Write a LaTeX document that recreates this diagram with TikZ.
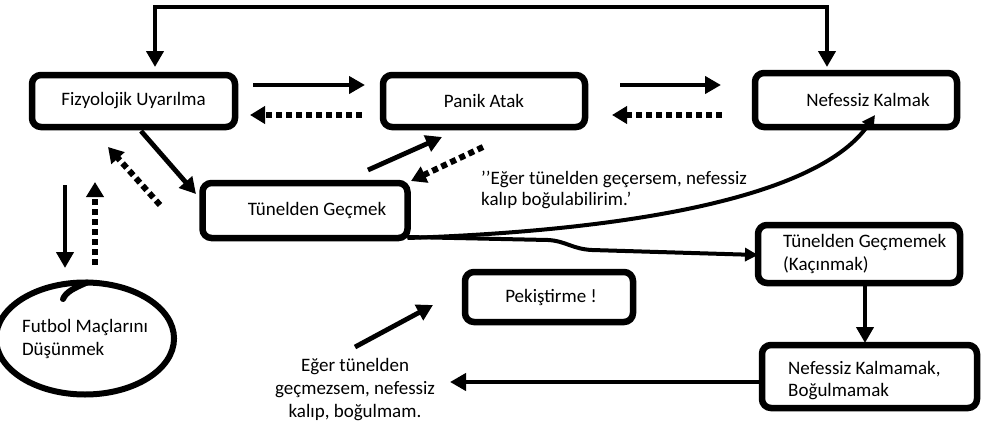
\documentclass[tikz,border=0pt]{standalone}
\usepackage{fontspec}
\setmainfont{Carlito}
\usetikzlibrary{arrows.meta,shapes.geometric}
\begin{document}
\begin{tikzpicture}[x=1pt,y=-1pt,
  txtfont/.style={font=\fontsize{19}{23}\selectfont},
  box/.style={draw,line width=6.5pt,rounded corners=9pt,inner sep=0pt,outer sep=0pt,txtfont},
  lbl/.style={txtfont,inner sep=0pt},
  sarr/.style={line width=4.8pt,-{Triangle[length=16pt,width=17pt]}},
  darr/.style={line width=6pt,dash pattern=on 6pt off 4pt,-{Triangle[length=15pt,width=17pt]}},
  carr/.style={line width=4pt,-{Triangle[length=13pt,width=13pt]}},
]
\useasboundingbox (0,0) rectangle (986,426);

% boxes
\node[box,minimum width=203pt,minimum height=52pt] (FU) at (133.5,101) {Fizyolojik Uyarılma};
\node[box,minimum width=202pt,minimum height=52pt] (PA) at (484,101) {Panik Atak};
\node[box,minimum width=202pt,minimum height=54pt] (NK) at (856,100) {\hspace*{24pt}Nefessiz Kalmak};
\node[box,minimum width=205pt,minimum height=55pt] (TG) at (305,210.5) {\hspace*{24pt}Tünelden Geçmek};
\node[box,minimum width=202pt,minimum height=58pt] (TGM) at (859,254) {};
\node[lbl,anchor=west,align=left] (TGMt) at (783,254) {Tünelden Geçmemek\\(Kaçınmak)};
\node[box,minimum width=168pt,minimum height=50pt] (PK) at (549,297) {\hspace*{4pt}Pekiştirme !};
\node[box,minimum width=215pt,minimum height=63pt] (NKM) at (869.5,376.5) {};
\node[lbl,anchor=west,align=left,font=\fontsize{19}{22}\selectfont] (NKMt) at (788,381) {Nefessiz Kalmamak,\\Boğulmamak};

% ellipse
\node[draw,ellipse,line width=6pt,minimum width=155pt,minimum height=112pt,inner sep=0pt,align=left,txtfont] (FM) at (85,338.5) {Futbol Maçlarını\\Düşünmek};
\draw[line width=6pt,line cap=round] ([xshift=2pt,yshift=-3pt]FM.north) .. controls (74,288) and (66,292) .. (63,299);

% free texts
\node[lbl,anchor=west,align=left,font=\fontsize{19}{21}\selectfont] (Q) at (481,190) {’’Eğer tünelden geçersem, nefessiz\\kalıp boğulabilirim.’};
\node[lbl,align=center] (E) at (355,390) {Eğer tünelden\\geçmezsem, nefessiz\\kalıp, boğulmam.};

% arrow end points
\coordinate (a1s) at (253,85);  \coordinate (a1e) at (365,85);
\coordinate (a2s) at (362,115); \coordinate (a2e) at (250,115);
\coordinate (a3s) at (620,85);  \coordinate (a3e) at (721,85);
\coordinate (a4s) at (722,115); \coordinate (a4e) at (612,115);
\coordinate (a5s) at (141,131); \coordinate (a5e) at (196,194);
\coordinate (a6s) at (160,205); \coordinate (a6e) at (108,147);
\coordinate (a7s) at (368,170); \coordinate (a7e) at (442,137);
\coordinate (a8s) at (483,147); \coordinate (a8e) at (411,181);
\coordinate (a9s) at (65,185);  \coordinate (a9e) at (65,268);
\coordinate (a10s) at (95,265); \coordinate (a10e) at (95,182);
\coordinate (ps) at (355,347);  \coordinate (pe) at (433,305);
\coordinate (te) at (450,382);

\draw[sarr] (a1s) -- (a1e);
\draw[darr] (a2s) -- (a2e);
\draw[sarr] (a3s) -- (a3e);
\draw[darr] (a4s) -- (a4e);
\draw[sarr] (a5s) -- (a5e);
\draw[darr] (a6s) -- (a6e);
\draw[sarr] (a7s) -- (a7e);
\draw[darr] (a8s) -- (a8e);
\draw[sarr] (a9s) -- (a9e);
\draw[darr] (a10s) -- (a10e);
\draw[sarr] (ps) -- (pe);

% top loop
\draw[line width=4pt,{Triangle[length=16pt,width=17pt]}-{Triangle[length=16pt,width=17pt]}]
  ([xshift=21.5pt,yshift=8pt]FU.north) -- ++(0,-60) -| ([xshift=-29pt,yshift=6pt]NK.north);

% curves from Tünelden Geçmek
\draw[carr] (TG.south east) .. controls (640,230) and (820,195) .. ([xshift=19pt,yshift=12pt]NK.south);
\draw[carr] ([yshift=1pt]TG.south east) -- (548,240) .. controls (566,241) and (572,249) .. (592,250) -- ([yshift=-1pt]TGM.west);

% bottom right
\draw[sarr] ([xshift=6pt]TGM.south) -- ([xshift=-4.5pt,yshift=2pt]NKM.north);
\draw[sarr] ([yshift=-5.5pt]NKM.west) -- (te);
\end{tikzpicture}
\end{document}
